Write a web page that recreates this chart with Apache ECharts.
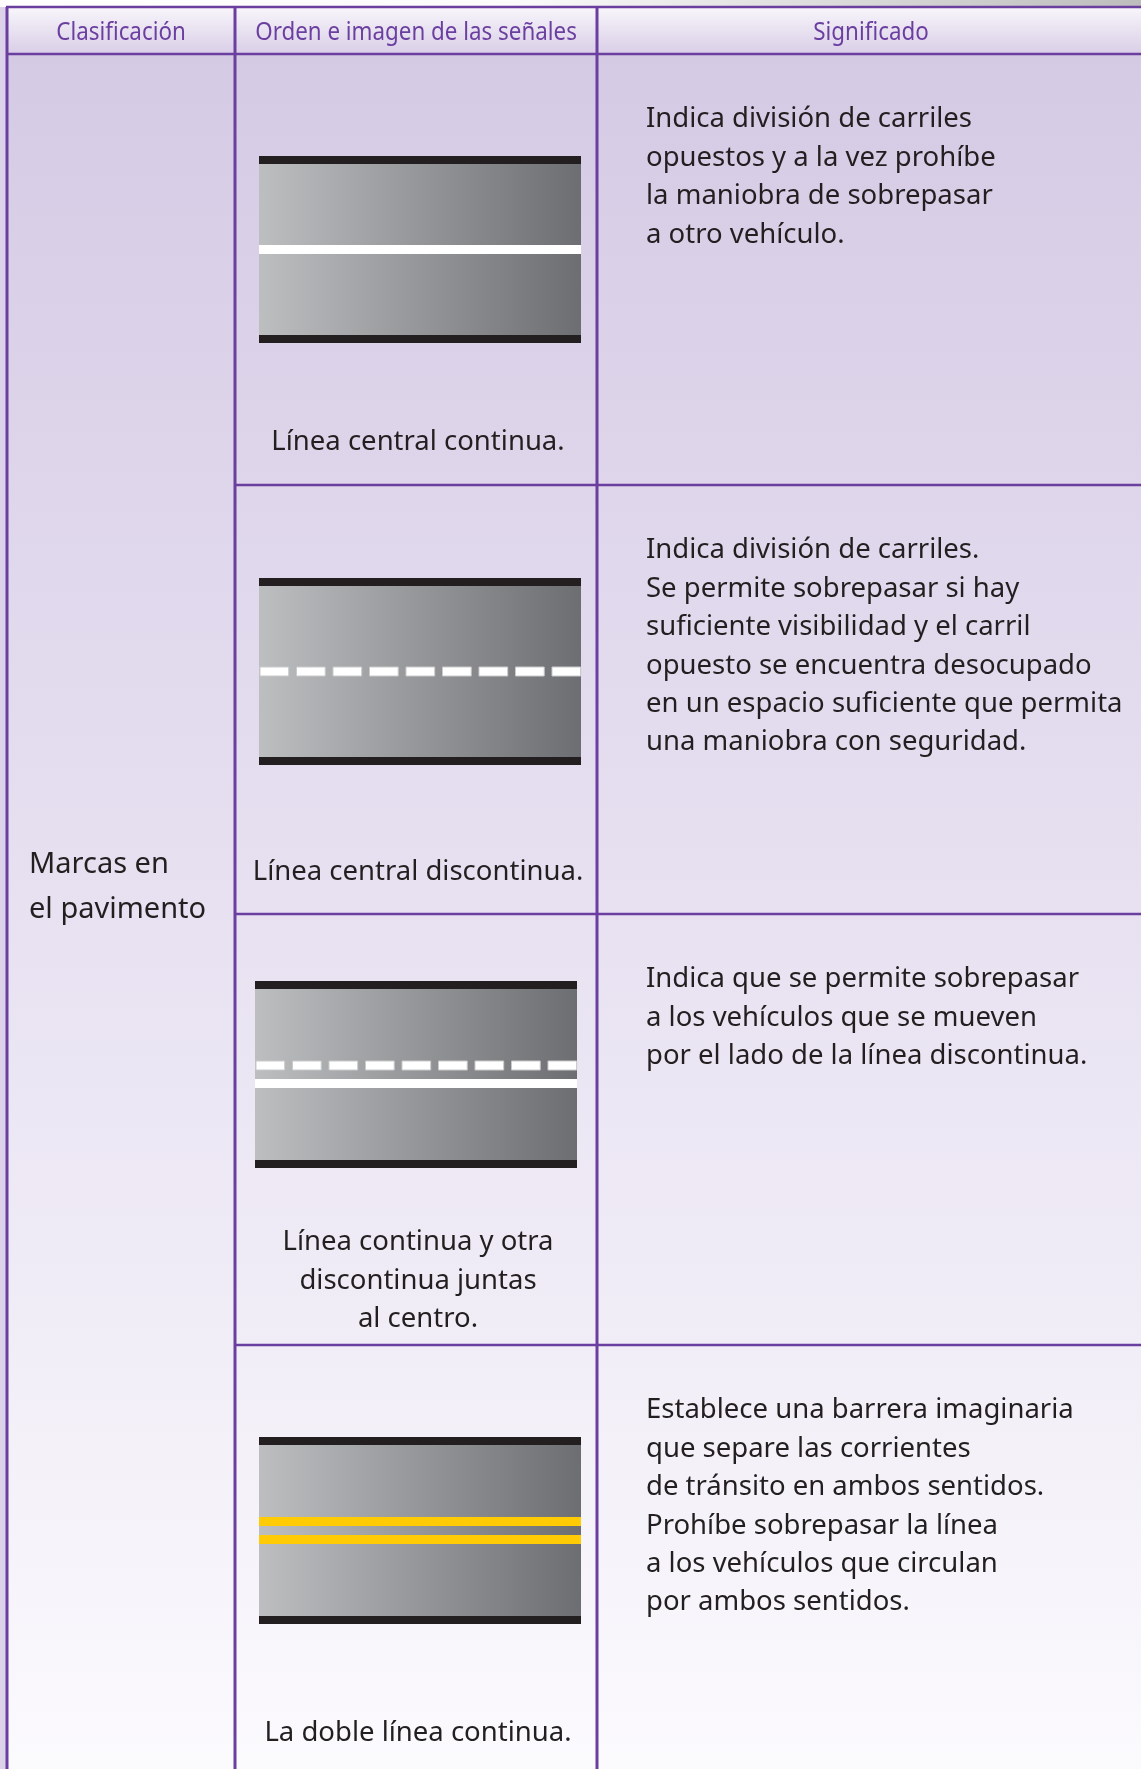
<!DOCTYPE html>
<html>
<head>
<meta charset="utf-8">
<script src="https://cdn.jsdelivr.net/npm/echarts@6/dist/echarts.min.js"></script>
<style>
html,body{margin:0;padding:0;background:#ffffff;}
#c{width:1141px;height:1769px;}
</style>
</head>
<body>
<div id="c"></div>
<script>
// ---- Data ----
const headers = ['Clasificación', 'Orden e imagen de las señales', 'Significado'];
const classification = ['Marcas en', 'el pavimento'];
const captions = [
  ['Línea central continua.'],
  ['Línea central discontinua.'],
  ['Línea continua y otra', 'discontinua juntas', 'al centro.'],
  ['La doble línea continua.']
];
const meanings = [
  ['Indica división de carriles', 'opuestos y a la vez prohíbe', 'la maniobra de sobrepasar', 'a otro vehículo.'],
  ['Indica división de carriles.', 'Se permite sobrepasar si hay', 'suficiente visibilidad y el carril', 'opuesto se encuentra desocupado', 'en un espacio suficiente que permita', 'una maniobra con seguridad.'],
  ['Indica que se permite sobrepasar', 'a los vehículos que se mueven', 'por el lado de la línea discontinua.'],
  ['Establece una barrera imaginaria', 'que separe las corrientes', 'de tránsito en ambos sentidos.', 'Prohíbe sobrepasar la línea', 'a los vehículos que circulan', 'por ambos sentidos.']
];
// centre markings of each road picture, top to bottom
const centerMarks = [
  ['solidWhite'],
  ['dashedWhite'],
  ['dashedWhite', 'solidWhite'],
  ['solidYellow', 'solidYellow']
];

// ---- Layout ----
const W = 1141, H = 1769;
const tableTop = 7, headBottom = 54, leftX = 7, col1 = 235, col2 = 597;
const rowTops = [54, 485, 914, 1345];
const roadPos = [[259, 156], [259, 578], [255, 981], [259, 1437]];
const roadW = 322, roadH = 187, edge = 8, stripe = 9;
const markOffsets = { 1: [89], 2: [80, 98] };
const captionY = [[442.5], [872.5], [1242.5, 1281.5, 1319.5], [1733.5]];
const purple = '#6b3fa0';
const ink = '#231f20';
const bodyFont = '"Noto Sans", sans-serif';

const g = [];
// page background
g.push({ type: 'rect', shape: { x: 0, y: 0, width: W, height: H }, style: { fill: '#dcd3ea' }, silent: true });
g.push({ type: 'rect', shape: { x: 0, y: 0, width: W, height: tableTop },
  style: { fill: new echarts.graphic.LinearGradient(0, 0, 1, 0, [
    { offset: 0, color: '#ffffff' }, { offset: 0.45, color: '#fbfbfb' }, { offset: 1, color: '#bdbdbd' }]) } });
// table body background
g.push({ type: 'rect', shape: { x: leftX, y: headBottom, width: W - leftX, height: H - headBottom },
  style: { fill: new echarts.graphic.LinearGradient(0, 0, 0, 1, [
    { offset: 0, color: '#d5cae4' }, { offset: 0.5, color: '#e7e1f1' }, { offset: 1, color: '#fbfafd' }]) } });
// header background
g.push({ type: 'rect', shape: { x: leftX, y: tableTop, width: W - leftX, height: headBottom - tableTop },
  style: { fill: new echarts.graphic.LinearGradient(0, 0, 0, 1, [
    { offset: 0, color: '#f8f6fb' }, { offset: 1, color: '#d9cee7' }]) } });

// roads
roadPos.forEach(function (p, i) {
  const x = p[0], y = p[1];
  g.push({ type: 'rect', shape: { x: x, y: y, width: roadW, height: roadH },
    style: { fill: new echarts.graphic.LinearGradient(0, 0, 1, 0, [
      { offset: 0, color: '#bdbec0' }, { offset: 1, color: '#6d6e71' }]) } });
  g.push({ type: 'rect', shape: { x: x, y: y, width: roadW, height: edge }, style: { fill: ink } });
  g.push({ type: 'rect', shape: { x: x, y: y + roadH - edge, width: roadW, height: edge }, style: { fill: ink } });
  const marks = centerMarks[i];
  const offs = markOffsets[marks.length];
  marks.forEach(function (m, k) {
    const yy = y + offs[k];
    if (m === 'dashedWhite') {
      const dashW = 28.7, period = 36.5;
      for (let dx = 1; dx < roadW; dx += period) {
        const w = Math.min(dashW, roadW - dx);
        g.push({ type: 'rect', shape: { x: x + dx, y: yy, width: w, height: stripe },
          style: { fill: '#ffffff', stroke: '#c9cacc', lineWidth: 1 } });
      }
    } else {
      g.push({ type: 'rect', shape: { x: x, y: yy, width: roadW, height: stripe },
        style: { fill: m === 'solidYellow' ? '#ffcb05' : '#ffffff' } });
    }
  });
});

// grid lines
function hline(y, x1, x2) {
  g.push({ type: 'line', shape: { x1: x1, y1: y, x2: x2, y2: y }, style: { stroke: purple, lineWidth: 2.5 } });
}
function vline(x, y1, y2) {
  g.push({ type: 'line', shape: { x1: x, y1: y1, x2: x, y2: y2 }, style: { stroke: purple, lineWidth: 3 } });
}
hline(tableTop, leftX - 1, W);
hline(headBottom, leftX - 1, W);
rowTops.slice(1).forEach(function (y) { hline(y, col1, W); });
vline(leftX, tableTop, H);
vline(col1, tableTop, H);
vline(col2, tableTop, H);

// header texts
const headCenters = [(leftX + col1) / 2, (col1 + col2) / 2, (col2 + W) / 2 + 2];
headers.forEach(function (t, i) {
  g.push({ type: 'text', x: headCenters[i], y: 33, scaleX: 0.86,
    style: { text: t, x: 0, y: 0, fill: purple, font: '26px ' + bodyFont, textAlign: 'center', textVerticalAlign: 'middle' } });
});

// classification
classification.forEach(function (t, k) {
  g.push({ type: 'text', x: 29, y: 864.5 + k * 45,
    style: { text: t, fill: ink, font: '29px ' + bodyFont, textAlign: 'left', textVerticalAlign: 'middle' } });
});

// captions
captions.forEach(function (lines, i) {
  lines.forEach(function (t, k) {
    g.push({ type: 'text', x: (col1 + col2) / 2 + 2, y: captionY[i][k],
      style: { text: t, fill: ink, font: '27.5px ' + bodyFont, textAlign: 'center', textVerticalAlign: 'middle' } });
  });
});

// meanings
meanings.forEach(function (lines, i) {
  lines.forEach(function (t, k) {
    g.push({ type: 'text', x: 646, y: rowTops[i] + 65.5 + k * 38.4,
      style: { text: t, fill: ink, font: '27.5px ' + bodyFont, textAlign: 'left', textVerticalAlign: 'middle' } });
  });
});

const chart = echarts.init(document.getElementById('c'), null, { renderer: 'canvas', width: W, height: H });
chart.setOption({ animation: false, graphic: { elements: g } });
</script>
</body>
</html>
